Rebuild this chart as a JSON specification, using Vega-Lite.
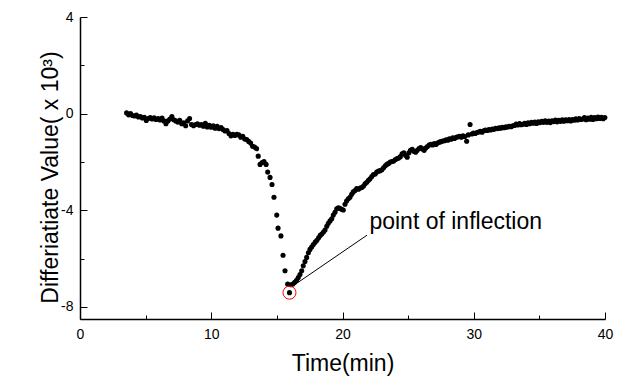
{
  "$schema": "https://vega.github.io/schema/vega-lite/v6.json",
  "width": 525,
  "height": 302,
  "autosize": "none",
  "padding": {"left": 80, "top": 17, "right": 13, "bottom": 57},
  "background": "white",
  "config": {
    "view": {"stroke": null},
    "font": "Liberation Sans",
    "axis": {"labelFont": "Liberation Sans", "titleFont": "Liberation Sans"}
  },
  "datasets": {
    "series": [
      {"t":3.55,"v":0.03},{"t":3.70,"v":-0.05},{"t":3.85,"v":0.00},{"t":4.00,"v":-0.08},{"t":4.15,"v":-0.10},{"t":4.30,"v":-0.06},{"t":4.45,"v":-0.14},{"t":4.60,"v":-0.12},{"t":4.75,"v":-0.18},{"t":4.90,"v":-0.15},
      {"t":5.05,"v":-0.28},{"t":5.20,"v":-0.20},{"t":5.35,"v":-0.16},{"t":5.50,"v":-0.22},{"t":5.65,"v":-0.17},{"t":5.80,"v":-0.24},{"t":5.95,"v":-0.20},{"t":6.10,"v":-0.26},{"t":6.25,"v":-0.18},{"t":6.40,"v":-0.30},
      {"t":6.55,"v":-0.42},{"t":6.70,"v":-0.30},{"t":6.85,"v":-0.22},{"t":7.00,"v":-0.12},{"t":7.15,"v":-0.25},{"t":7.30,"v":-0.30},{"t":7.45,"v":-0.35},{"t":7.60,"v":-0.28},{"t":7.75,"v":-0.42},{"t":7.90,"v":-0.38},
      {"t":8.05,"v":-0.50},{"t":8.20,"v":-0.30},{"t":8.35,"v":-0.20},{"t":8.50,"v":-0.45},{"t":8.65,"v":-0.50},{"t":8.80,"v":-0.45},{"t":8.95,"v":-0.42},{"t":9.10,"v":-0.48},{"t":9.25,"v":-0.45},{"t":9.40,"v":-0.52},
      {"t":9.55,"v":-0.40},{"t":9.70,"v":-0.55},{"t":9.85,"v":-0.48},{"t":10.00,"v":-0.56},{"t":10.15,"v":-0.50},{"t":10.30,"v":-0.60},{"t":10.45,"v":-0.52},{"t":10.60,"v":-0.62},{"t":10.75,"v":-0.58},{"t":10.90,"v":-0.66},
      {"t":11.05,"v":-0.72},{"t":11.20,"v":-0.70},{"t":11.35,"v":-0.82},{"t":11.50,"v":-0.92},{"t":11.65,"v":-0.85},{"t":11.80,"v":-0.90},{"t":11.95,"v":-0.86},{"t":12.10,"v":-0.88},{"t":12.25,"v":-0.98},{"t":12.40,"v":-0.94},
      {"t":12.55,"v":-1.05},{"t":12.70,"v":-1.07},{"t":12.85,"v":-1.15},{"t":13.00,"v":-1.22},{"t":13.15,"v":-1.35},{"t":13.30,"v":-1.38},{"t":13.45,"v":-1.45},
      {"t":13.58,"v":-1.76},{"t":13.72,"v":-2.10},{"t":13.88,"v":-2.02},{"t":14.02,"v":-1.98},{"t":14.18,"v":-2.10},{"t":14.30,"v":-2.42},{"t":14.48,"v":-2.64},{"t":14.63,"v":-2.93},{"t":14.78,"v":-3.46},{"t":14.99,"v":-4.20},
      {"t":15.09,"v":-4.74},{"t":15.31,"v":-5.06},{"t":15.47,"v":-5.86},{"t":15.62,"v":-6.50},{"t":15.82,"v":-7.05},{"t":15.96,"v":-7.41},
      {"t":16.08,"v":-7.08},{"t":16.22,"v":-7.05},{"t":16.36,"v":-6.98},{"t":16.50,"v":-6.90},{"t":16.63,"v":-6.78},{"t":16.76,"v":-6.66},{"t":16.89,"v":-6.50},{"t":17.01,"v":-6.30},{"t":17.14,"v":-6.12},{"t":17.27,"v":-5.95},
      {"t":17.40,"v":-5.76},{"t":17.52,"v":-5.62},{"t":17.65,"v":-5.52},{"t":17.78,"v":-5.42},{"t":17.92,"v":-5.32},{"t":18.05,"v":-5.24},{"t":18.18,"v":-5.14},{"t":18.30,"v":-5.04},{"t":18.42,"v":-4.98},{"t":18.55,"v":-4.90},
      {"t":18.67,"v":-4.82},{"t":18.80,"v":-4.66},{"t":18.92,"v":-4.54},{"t":19.05,"v":-4.44},{"t":19.18,"v":-4.35},{"t":19.30,"v":-4.20},{"t":19.43,"v":-4.08},{"t":19.56,"v":-3.94},{"t":19.68,"v":-3.90},{"t":19.80,"v":-3.92},
      {"t":19.93,"v":-3.96},{"t":20.06,"v":-3.99},{"t":20.19,"v":-3.75},{"t":20.31,"v":-3.62},{"t":20.44,"v":-3.52},{"t":20.57,"v":-3.46},{"t":20.70,"v":-3.34},{"t":20.82,"v":-3.24},{"t":20.95,"v":-3.18},{"t":21.08,"v":-3.10},
      {"t":21.21,"v":-3.13},{"t":21.34,"v":-3.08},{"t":21.47,"v":-3.06},{"t":21.60,"v":-3.00},{"t":21.72,"v":-2.90},{"t":21.85,"v":-2.84},{"t":21.98,"v":-2.76},{"t":22.10,"v":-2.70},{"t":22.23,"v":-2.60},{"t":22.36,"v":-2.52},
      {"t":22.49,"v":-2.50},{"t":22.61,"v":-2.42},{"t":22.74,"v":-2.38},{"t":22.87,"v":-2.36},{"t":23.00,"v":-2.32},{"t":23.13,"v":-2.24},{"t":23.26,"v":-2.16},{"t":23.38,"v":-2.10},{"t":23.51,"v":-2.06},{"t":23.64,"v":-2.00},
      {"t":23.77,"v":-1.98},{"t":23.90,"v":-1.96},{"t":24.03,"v":-1.90},{"t":24.16,"v":-1.86},{"t":24.28,"v":-1.84},{"t":24.41,"v":-1.78},{"t":24.54,"v":-1.66},{"t":24.67,"v":-1.62},{"t":24.80,"v":-1.72},{"t":24.93,"v":-1.80},
      {"t":25.06,"v":-1.62},{"t":25.18,"v":-1.52},{"t":25.31,"v":-1.48},{"t":25.44,"v":-1.56},{"t":25.57,"v":-1.60},{"t":25.70,"v":-1.52},{"t":25.83,"v":-1.44},{"t":25.96,"v":-1.40},{"t":26.09,"v":-1.46},{"t":26.22,"v":-1.52},
      {"t":26.34,"v":-1.42},{"t":26.47,"v":-1.36},{"t":26.60,"v":-1.30},{"t":26.73,"v":-1.27},{"t":26.86,"v":-1.30},{"t":26.99,"v":-1.24},{"t":27.12,"v":-1.28},{"t":27.24,"v":-1.22},{"t":27.37,"v":-1.18},{"t":27.50,"v":-1.16},
      {"t":27.63,"v":-1.13},{"t":27.76,"v":-1.12},{"t":27.89,"v":-1.08},{"t":28.02,"v":-1.10},{"t":28.14,"v":-1.04},{"t":28.27,"v":-1.06},{"t":28.40,"v":-1.00},{"t":28.53,"v":-1.03},{"t":28.66,"v":-0.98},{"t":28.79,"v":-0.96},
      {"t":28.92,"v":-0.94},{"t":29.05,"v":-0.98},{"t":29.18,"v":-0.92},{"t":29.31,"v":-0.95},{"t":29.46,"v":-1.14},{"t":29.58,"v":-0.88},{"t":29.72,"v":-0.45},{"t":29.85,"v":-0.84},{"t":29.98,"v":-0.80},{"t":30.11,"v":-0.82},
      {"t":30.24,"v":-0.78},{"t":30.37,"v":-0.76},{"t":30.50,"v":-0.73},{"t":30.63,"v":-0.77},{"t":30.76,"v":-0.71},{"t":30.89,"v":-0.68},{"t":31.02,"v":-0.70},{"t":31.15,"v":-0.66},{"t":31.28,"v":-0.68},{"t":31.41,"v":-0.64},
      {"t":31.54,"v":-0.65},{"t":31.67,"v":-0.61},{"t":31.80,"v":-0.62},{"t":31.93,"v":-0.59},{"t":32.06,"v":-0.60},{"t":32.19,"v":-0.57},{"t":32.32,"v":-0.58},{"t":32.45,"v":-0.54},{"t":32.58,"v":-0.56},{"t":32.71,"v":-0.52},
      {"t":32.84,"v":-0.54},{"t":32.97,"v":-0.50},{"t":33.10,"v":-0.49},{"t":33.23,"v":-0.43},{"t":33.36,"v":-0.47},{"t":33.49,"v":-0.41},{"t":33.62,"v":-0.46},{"t":33.75,"v":-0.44},{"t":33.88,"v":-0.40},{"t":34.01,"v":-0.45},
      {"t":34.14,"v":-0.38},{"t":34.27,"v":-0.42},{"t":34.40,"v":-0.36},{"t":34.53,"v":-0.40},{"t":34.66,"v":-0.35},{"t":34.79,"v":-0.41},{"t":34.92,"v":-0.34},{"t":35.05,"v":-0.37},{"t":35.18,"v":-0.32},{"t":35.31,"v":-0.36},
      {"t":35.44,"v":-0.30},{"t":35.57,"v":-0.36},{"t":35.70,"v":-0.31},{"t":35.83,"v":-0.37},{"t":35.96,"v":-0.30},{"t":36.09,"v":-0.33},{"t":36.22,"v":-0.27},{"t":36.35,"v":-0.34},{"t":36.48,"v":-0.28},{"t":36.61,"v":-0.32},
      {"t":36.74,"v":-0.26},{"t":36.87,"v":-0.31},{"t":37.00,"v":-0.25},{"t":37.13,"v":-0.29},{"t":37.26,"v":-0.24},{"t":37.39,"v":-0.30},{"t":37.52,"v":-0.24},{"t":37.65,"v":-0.27},{"t":37.78,"v":-0.21},{"t":37.91,"v":-0.26},
      {"t":38.04,"v":-0.20},{"t":38.17,"v":-0.24},{"t":38.30,"v":-0.22},{"t":38.43,"v":-0.16},{"t":38.56,"v":-0.25},{"t":38.69,"v":-0.18},{"t":38.82,"v":-0.23},{"t":38.95,"v":-0.15},{"t":39.08,"v":-0.24},{"t":39.21,"v":-0.16},
      {"t":39.34,"v":-0.21},{"t":39.47,"v":-0.14},{"t":39.60,"v":-0.20},{"t":39.73,"v":-0.15},{"t":39.86,"v":-0.21},{"t":39.99,"v":-0.16}
    ],
    "marker": [{"t": 15.96, "v": -7.41}],
    "pointer": [{"t": 16.25, "v": -7.12, "t2": 21.87, "v2": -5.03}],
    "note": [{"t": 22.05, "v": -4.76, "label": "point of inflection"}]
  },
  "layer": [
    {
      "data": {"name": "series"},
      "mark": {"type": "circle", "color": "black", "size": 26, "opacity": 1},
      "encoding": {
        "x": {
          "field": "t", "type": "quantitative",
          "scale": {"domain": [0, 40], "nice": false, "zero": false},
          "axis": {
            "values": [0, 5, 10, 15, 20, 25, 30, 35, 40],
            "labelExpr": "datum.value % 10 === 0 ? '' + datum.value : ''",
            "tickSize": {"condition": {"test": "datum.value % 10 === 0", "value": -7}, "value": -4},
            "labelPadding": 26,
            "labelBaseline": "alphabetic",
            "labelFontSize": 14,
            "labelColor": "black",
            "labelFlush": false,
            "labelOverlap": false,
            "grid": false,
            "domainColor": "black",
            "domainWidth": 1.5,
            "tickColor": "black",
            "tickWidth": 1,
            "title": "Time(min)",
            "titleFontSize": 23,
            "titleFontWeight": "normal",
            "titleColor": "black",
            "titleBaseline": "alphabetic",
            "titleY": 51
          }
        },
        "y": {
          "field": "v", "type": "quantitative",
          "scale": {"domain": [-8.5, 4], "nice": false, "zero": false},
          "axis": {
            "values": [-8, -6, -4, -2, 0, 2, 4],
            "labelExpr": "datum.value % 4 === 0 ? '' + datum.value : ''",
            "tickSize": {"condition": {"test": "datum.value % 4 === 0", "value": -7}, "value": -4},
            "labelPadding": 14,
            "labelFontSize": 14,
            "labelColor": "black",
            "labelFlush": false,
            "labelOverlap": false,
            "grid": false,
            "domainColor": "black",
            "domainWidth": 1.5,
            "tickColor": "black",
            "tickWidth": 1,
            "title": "Differiatiate Value( x 10³)",
            "titleFontSize": 23,
            "titleFontWeight": "normal",
            "titleColor": "black",
            "titleAngle": -90,
            "titleBaseline": "alphabetic",
            "titleAlign": "center",
            "titleX": -23,
            "titleY": 160
          }
        }
      }
    },
    {
      "data": {"name": "marker"},
      "mark": {"type": "point", "shape": "circle", "filled": false, "stroke": "red", "strokeWidth": 1, "size": 170, "opacity": 1},
      "encoding": {
        "x": {"field": "t", "type": "quantitative"},
        "y": {"field": "v", "type": "quantitative"}
      }
    },
    {
      "data": {"name": "pointer"},
      "mark": {"type": "rule", "color": "black", "strokeWidth": 1},
      "encoding": {
        "x": {"field": "t", "type": "quantitative"},
        "y": {"field": "v", "type": "quantitative"},
        "x2": {"field": "t2"},
        "y2": {"field": "v2"}
      }
    },
    {
      "data": {"name": "note"},
      "mark": {"type": "text", "align": "left", "baseline": "alphabetic", "fontSize": 23, "font": "Liberation Sans", "color": "black"},
      "encoding": {
        "x": {"field": "t", "type": "quantitative"},
        "y": {"field": "v", "type": "quantitative"},
        "text": {"field": "label"}
      }
    }
  ]
}
